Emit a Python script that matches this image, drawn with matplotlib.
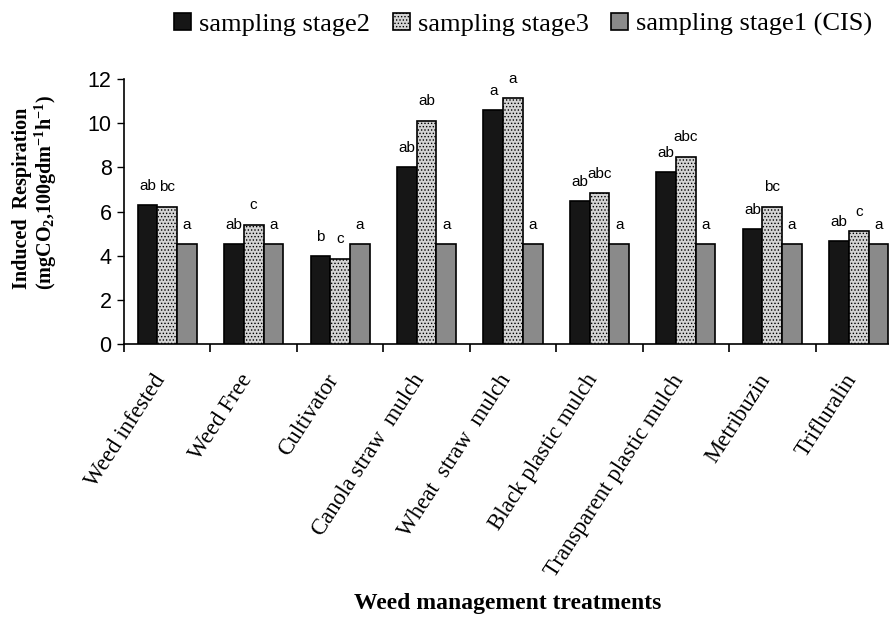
import matplotlib
matplotlib.use("Agg")
import matplotlib.pyplot as plt
import matplotlib.transforms as mtransforms
import numpy as np

plt.rcParams['mathtext.default'] = 'regular'
plt.rcParams['hatch.linewidth'] = 0.6

categories = ["Weed infested", "Weed Free", "Cultivator", "Canola straw  mulch",
              "Wheat  straw  mulch", "Black plastic mulch", "Transparent plastic mulch",
              "Metribuzin", "Trifluralin"]
series_names = ["sampling stage2", "sampling stage3", "sampling stage1 (CIS)"]
stage2 = [6.28, 4.51, 3.98, 8.01, 10.59, 6.47, 7.78, 5.20, 4.66]
stage3 = [6.21, 5.41, 3.86, 10.10, 11.12, 6.82, 8.48, 6.21, 5.10]
stage1 = [4.51, 4.51, 4.51, 4.51, 4.51, 4.51, 4.51, 4.51, 4.51]
letters2 = ["ab", "ab", "b", "ab", "a", "ab", "ab", "ab", "ab"]
letters3 = ["bc", "c", "c", "ab", "a", "abc", "abc", "bc", "c"]
letters1 = ["a"] * 9
yticks = [0, 2, 4, 6, 8, 10, 12]

serif = "Liberation Serif"
sans = "Liberation Sans"

fig = plt.figure(figsize=(8.89, 6.23), dpi=100)
ax = fig.add_axes([124/889, 1-344/623, 778/889, 265/623])

x = np.arange(len(categories))
w = 0.228
styles = [
    dict(facecolor="#161616", hatch=None),
    dict(facecolor="#d4d4d4", hatch="....."),
    dict(facecolor="#8a8a8a", hatch=None),
]
handles = []
for k, (vals, labs) in enumerate([(stage2, letters2), (stage3, letters3), (stage1, letters1)]):
    st = styles[k]
    bars = ax.bar(x + (k - 1) * w, vals, width=w, facecolor=st["facecolor"],
                  hatch=st["hatch"], edgecolor="black", linewidth=1.2,
                  label=series_names[k], zorder=3)
    handles.append(bars)
    for xi, v, lab in zip(x + (k - 1) * w, vals, labs):
        ax.annotate(lab, (xi, v), xytext=(0, 9), textcoords="offset points",
                    ha="center", va="bottom", fontsize=11, family=sans,
                    annotation_clip=False)

ax.set_ylim(0, 12)
ax.set_xlim(-0.5, 8.5)
ax.set_yticks(yticks)
ax.set_yticklabels([str(t) for t in yticks], fontsize=15.5, family=sans)
ax.tick_params(axis="y", direction="out", length=5, width=1, pad=4)

ax.set_xticks(np.arange(-0.5, 9.0, 1.0))
ax.set_xticklabels([])
ax.tick_params(axis="x", which="major", direction="out", length=6, width=1.2)
ax.set_xticks(x, minor=True)
ax.set_xticklabels(categories, minor=True, rotation=57, ha="right",
                   rotation_mode="anchor", fontsize=16.5, family=serif)
ax.tick_params(axis="x", which="minor", length=0, pad=19)
shift = mtransforms.ScaledTranslation(-15/100, 0, fig.dpi_scale_trans)
for lab in ax.get_xticklabels(minor=True):
    lab.set_transform(lab.get_transform() + shift)

for s in ["top", "right"]:
    ax.spines[s].set_visible(False)
ax.spines["left"].set_linewidth(1.2)
ax.spines["bottom"].set_linewidth(1.2)

fig.text(0.025, 1 - 198/623, "Induced  Respiration", rotation=90, ha="center", va="center",
         fontsize=14.5, fontweight="bold", family=serif)
fig.text(0.052, 1 - 192/623, r"(mgCO$_{2}$,100gdm$^{-1}$h$^{-1}$)", rotation=90,
         ha="center", va="center", fontsize=14.5, fontweight="bold", family=serif)

fig.text(508/889, 1 - 604/623, "Weed management treatments", ha="center", va="center",
         fontsize=17, fontweight="bold", family=serif)

fig.legend(handles=handles, loc="upper right", bbox_to_anchor=(1.008, 1.018), ncol=3,
           frameon=False, prop=dict(family=serif, size=19), handlelength=0.65,
           handleheight=0.65, handletextpad=0.3, columnspacing=0.85)

fig.savefig("out.png", dpi=100)
